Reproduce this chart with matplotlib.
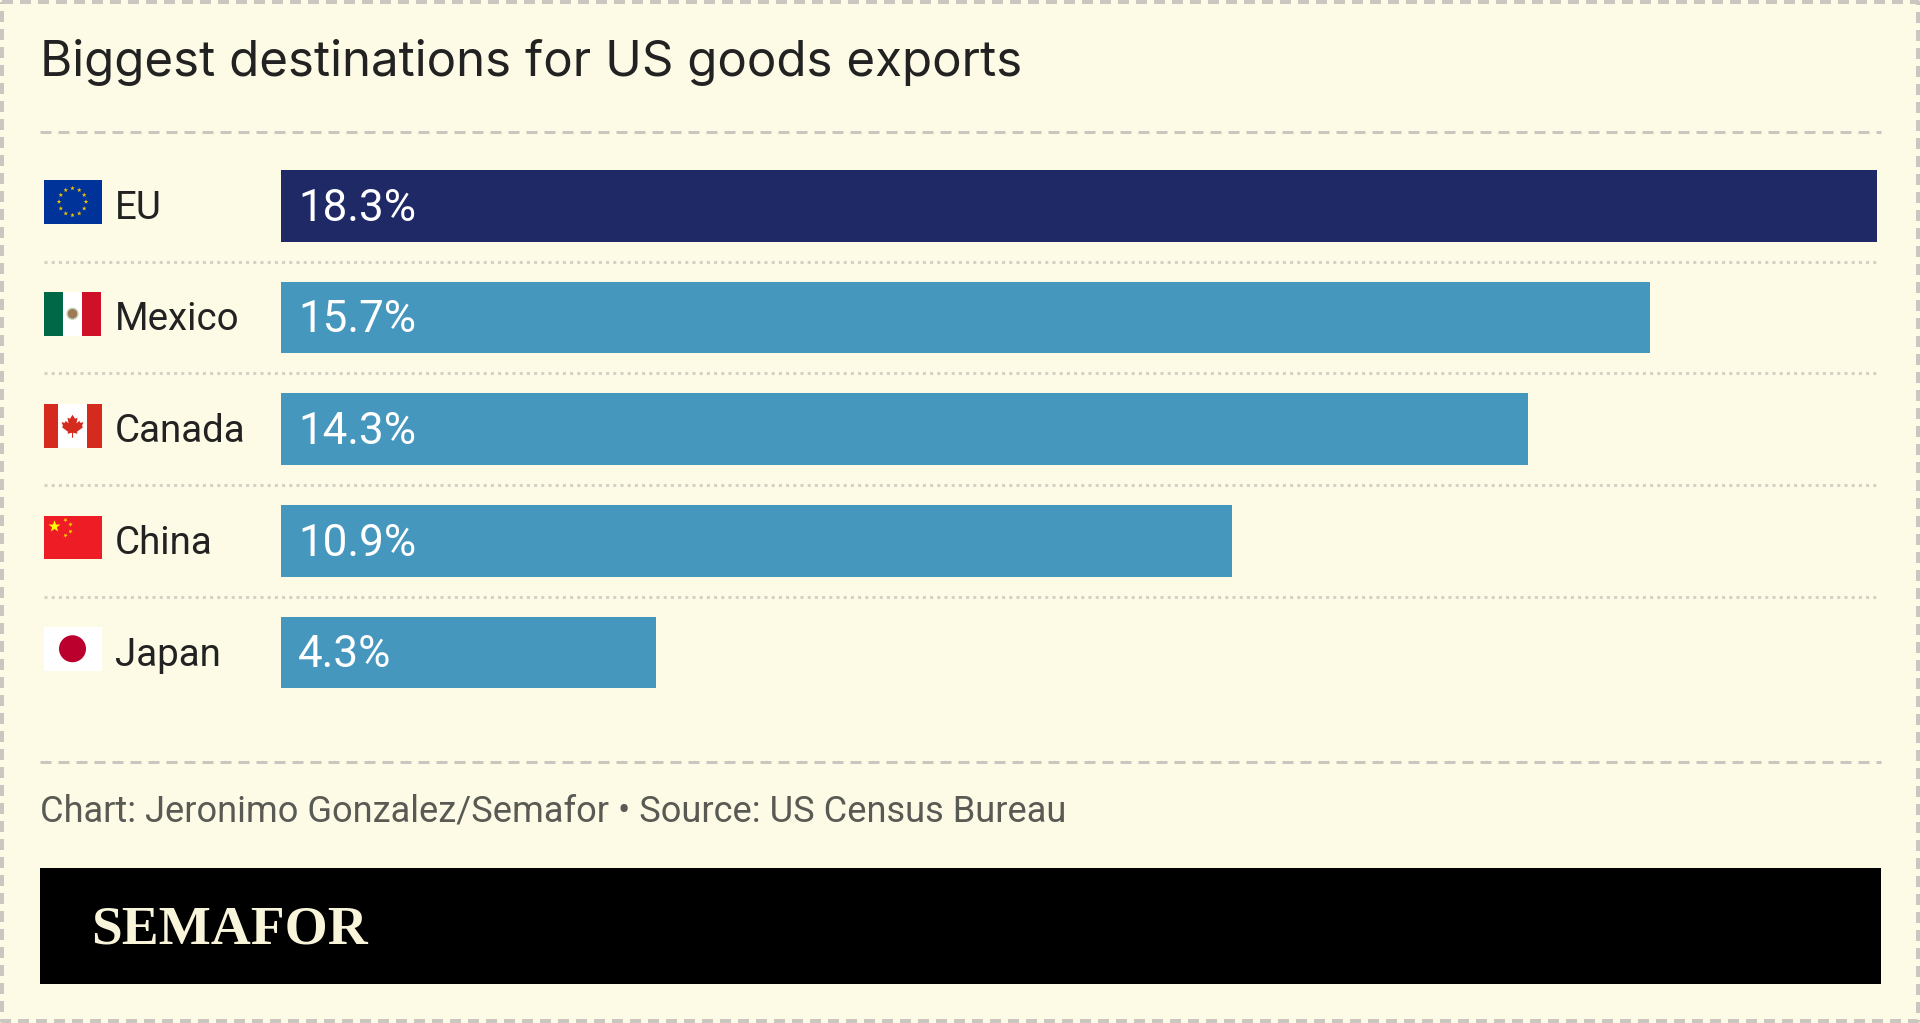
import matplotlib
matplotlib.use("Agg")
import numpy as np
import matplotlib.pyplot as plt
from matplotlib.patches import Rectangle, Circle, Polygon

# ---- data
countries = ["EU", "Mexico", "Canada", "China", "Japan"]
shares = [18.3, 15.7, 14.3, 10.9, 4.3]
bar_colors = ["#1F2966", "#4697BD", "#4697BD", "#4697BD", "#4697BD"]
title = "Biggest destinations for US goods exports"
credit = "Chart: Jeronimo Gonzalez/Semafor \u2022 Source: US Census Bureau"
brand = "SEMAFOR"

BG = "#FDFBE6"
DASH = "#C9C7BF"
NARROW = "Roboto"

fig = plt.figure(figsize=(19.2, 10.23), dpi=100, facecolor=BG)
W, H = 1920, 1023

# overlay in pixel coordinates for furniture
pix = fig.add_axes([0, 0, 1, 1], zorder=1)
pix.set_xlim(0, W); pix.set_ylim(H, 0); pix.axis("off")

def px(v):
    return v * 0.72

# bars
ax = fig.add_axes([281.2 / W, 1 - 708.3 / H, (1877 - 281.2) / W, (708.3 - 150) / H], zorder=2)
ax.patch.set_alpha(0)
ax.set_xlim(0, max(shares)); ax.set_ylim(4.5, -0.5); ax.axis("off")
y = np.arange(len(countries))
ax.barh(y, shares, height=0.642, color=bar_colors, linewidth=0)
for yi, v in zip(y, shares):
    ax.annotate(f"{v}%", (0, yi), xytext=(17 * 0.72, -2), textcoords="offset points",
                color="white", fontsize=px(44), family=NARROW, va="center", ha="left")

# border + rules
def dashed(xs, ys, lw_px, on, off, color=DASH):
    pix.plot(xs, ys, color=color, lw=px(lw_px), dashes=(on / lw_px, off / lw_px),
             dash_capstyle="butt", solid_capstyle="butt")

dashed([2, 1918, 1918, 2, 2], [2, 2, 1021, 1021, 2], 4, 11, 7)
dashed([40, 1881], [132, 132], 3, 11, 7)
dashed([40, 1881], [762, 762], 3, 11, 7)
for yy in [261.7, 373.3, 485, 596.7]:
    dashed([43.5, 1877], [yy, yy], 3, 3, 4.2, "#D3D1C4")

# country labels
for name, yi in zip(countries, [205.85, 317.5, 429.15, 540.85, 652.5]):
    pix.text(115, yi + 2.5, name, color="#222222", fontsize=px(38.5), family=NARROW, va="center", ha="left")

# flags
FX, FW, FH = 43.5, 58, 43.5
def rect(x, y, w, h, c, z=3):
    pix.add_patch(Rectangle((x, y), w, h, facecolor=c, edgecolor="none", zorder=z))

def star(x, y, r, c, rot=0.0, z=5):
    a = np.deg2rad(-90 + rot) + np.arange(10) * np.pi / 5
    rad = np.where(np.arange(10) % 2 == 0, r, r * 0.4)
    pix.add_patch(Polygon(np.c_[x + rad * np.cos(a), y + rad * np.sin(a)], facecolor=c, edgecolor="none", zorder=z))

# EU
fy = 180
rect(FX, fy, FW, FH, "#003399")
for k in range(12):
    t = 2 * np.pi * k / 12
    star(FX + FW / 2 + 13.5 * np.cos(t), fy + FH / 2 + 13.5 * np.sin(t), 2.4, "#F2C200")
# Mexico
fy = 292
rect(FX, fy, FW, FH, "#FFFFFF")
rect(FX, fy, FW / 3, FH, "#006847")
rect(FX + 2 * FW / 3, fy, FW / 3, FH, "#CE1126")
pix.add_patch(Circle((FX + FW / 2, fy + FH / 2), 5.5, facecolor="#9C7A55", edgecolor="#C9D6C0", lw=1, zorder=5))
# Canada
fy = 404
rect(FX, fy, FW, FH, "#FFFFFF")
rect(FX, fy, FW / 4, FH, "#D52B1E")
rect(FX + 3 * FW / 4, fy, FW / 4, FH, "#D52B1E")
cx, cy = FX + FW / 2, fy + FH / 2
leaf = np.array([(0, -11), (2.5, -7), (5, -8), (4, -2.5), (7, -5), (7.5, -3), (11, -3.5), (9.5, 0), (10.5, 1.5),
                 (4.5, 6), (5, 8), (0.5, 7), (0.5, 12), (-0.5, 12), (-0.5, 7), (-5, 8), (-4.5, 6), (-10.5, 1.5),
                 (-9.5, 0), (-11, -3.5), (-7.5, -3), (-7, -5), (-4, -2.5), (-5, -8), (-2.5, -7)])
pix.add_patch(Polygon(leaf + [cx, cy], facecolor="#D52B1E", edgecolor="none", zorder=5))
# China
fy = 515.5
rect(FX, fy, FW, FH, "#EE1C25")
star(FX + 11, fy + 11, 6.2, "#FFFF00")
for dx, dy in [(22, 4.5), (27, 9), (27, 16), (22, 20)]:
    star(FX + dx, fy + dy, 2.3, "#FFD500", rot=30)
# Japan
fy = 627
rect(FX, fy, FW, FH, "#FFFFFF")
pix.add_patch(Circle((FX + FW / 2, fy + FH / 2), 13.5, facecolor="#BC002D", edgecolor="none", zorder=5))

# texts
pix.text(40, 62, title, color="#222222", fontsize=px(49.3), family="Inter", va="center", ha="left")
pix.text(40, 811, credit, color="#5A5A55", fontsize=px(36.2), family=NARROW, va="center", ha="left")

# logo band
rect(40, 868, 1841, 116, "#000000")
pix.text(91.5, 930.5, brand, color="#F9F5DA", fontsize=px(55.3), family="Liberation Serif", weight="bold", va="center", ha="left")

fig.savefig("out.png", dpi=100, facecolor=BG)
